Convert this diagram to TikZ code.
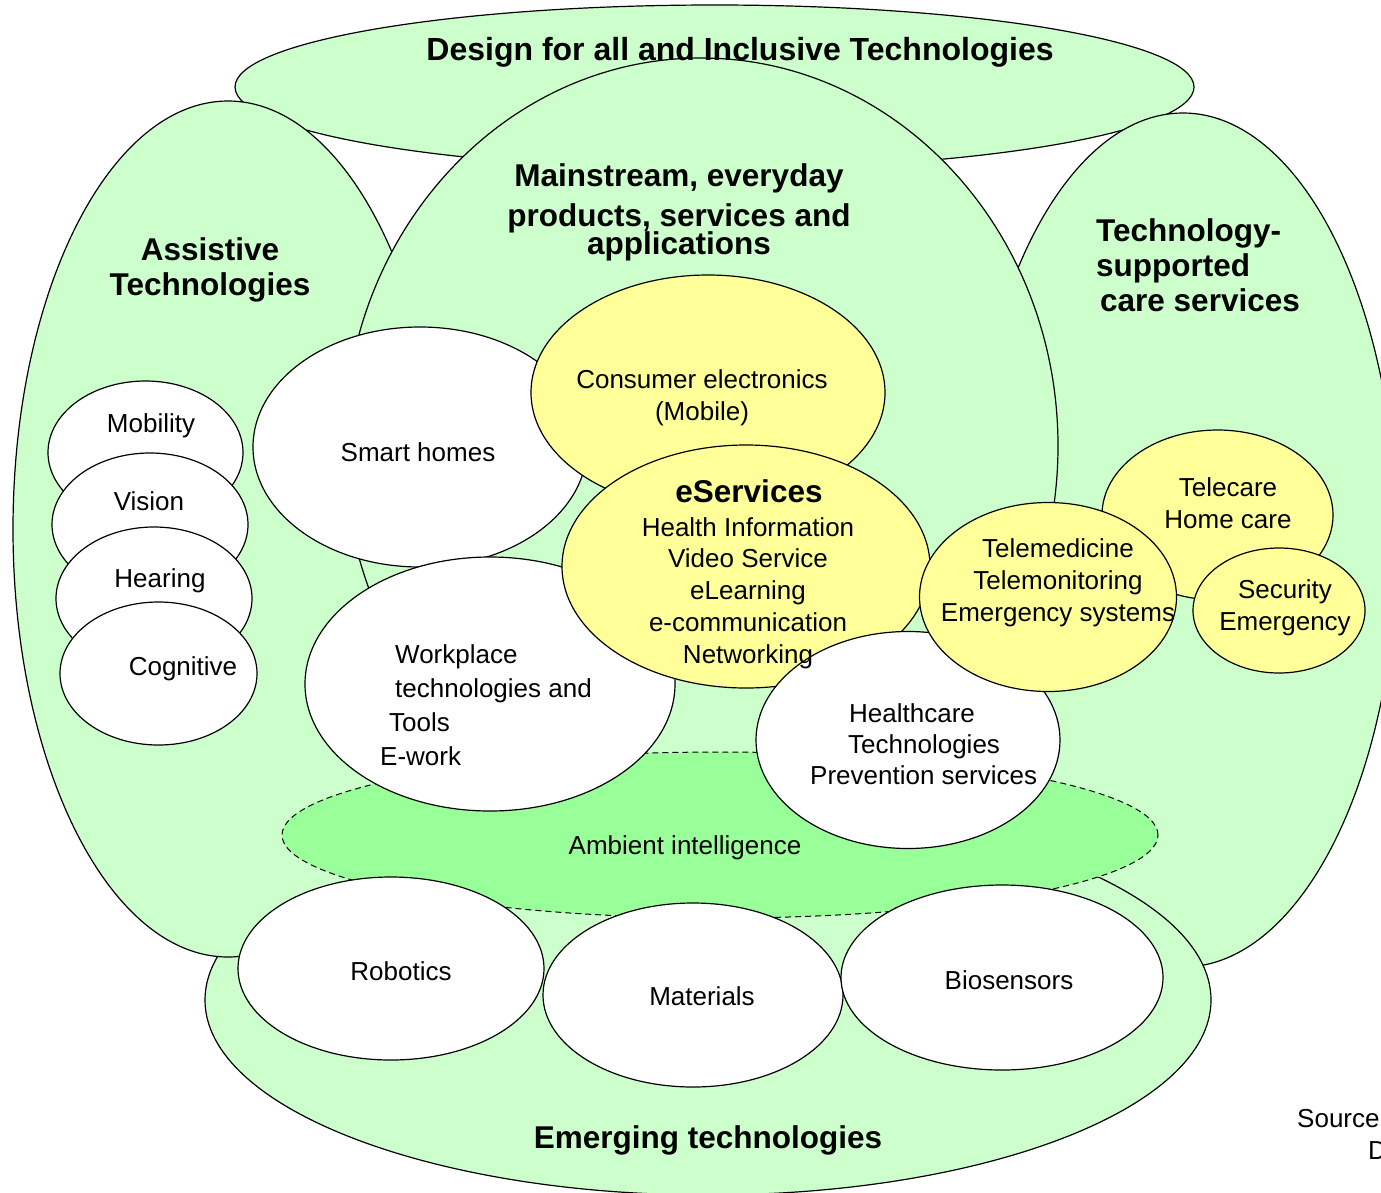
\documentclass[tikz,border=0pt]{standalone}
\usepackage{fontspec}
\setmainfont{Liberation Sans}
\usetikzlibrary{shapes.geometric}

\definecolor{palegreen}{HTML}{CCFFCC}
\definecolor{paleyellow}{HTML}{FFFF99}
\definecolor{amigreen}{HTML}{99FF99}

\newcommand{\regtxt}{\fontsize{26}{32}\selectfont}
\newcommand{\ttltxt}{\fontsize{31.5}{35}\selectfont\bfseries}

\begin{document}
\begin{tikzpicture}[x=1pt, y=-1pt,
    blob/.style={ellipse, draw=black, line width=1.2pt, inner sep=0pt},
    lbl/.style={inner sep=0pt, anchor=base, align=center, font=\regtxt},
    hdr/.style={inner sep=0pt, anchor=base, align=center, font=\ttltxt}]
    \useasboundingbox (0,0) rectangle (1381,1192);

%    the big areas
    \node[blob, fill=palegreen, minimum width=959pt, minimum height=164pt] (design) at (714.5,87) {};
    \node[blob, fill=palegreen, minimum width=428pt, minimum height=854pt] (caresvc) at (1183,540) {};
    \node[blob, fill=palegreen, minimum width=1006pt, minimum height=390pt] (emerging) at (708,1000) {};
    \node[blob, fill=palegreen, minimum width=430pt, minimum height=856pt] (assistive) at (228,529) {};
    \node[blob, fill=palegreen, minimum width=714pt, minimum height=776pt] (mainstream) at (701,446) {};

%    disabilities
    \node[blob, fill=white, minimum width=195pt, minimum height=143pt] (mobility) at (145.5,452.5) {};
    \node[blob, fill=white, minimum width=196pt, minimum height=143pt] (vision) at (150,524.5) {};
    \node[blob, fill=white, minimum width=196pt, minimum height=143pt] (hearing) at (154,598.5) {};
    \node[blob, fill=white, minimum width=197pt, minimum height=143pt] (cognitive) at (158.5,673.5) {};

    \node[blob, fill=amigreen, line width=1pt, dash pattern=on 6pt off 4pt, minimum width=876pt, minimum height=166pt] (ambient) at (720,835) {};

    \node[blob, fill=white, minimum width=334pt, minimum height=240pt] (smarthomes) at (420,447) {};
    \node[blob, fill=paleyellow, minimum width=354pt, minimum height=235pt] (consumer) at (708,392.5) {};
    \node[blob, fill=white, minimum width=370pt, minimum height=254pt] (workplace) at (490,684) {};
    \node[blob, fill=paleyellow, minimum width=368pt, minimum height=243pt] (eservices) at (746,566.5) {};
    \node[blob, fill=white, minimum width=304pt, minimum height=217pt] (healthcare) at (908,740) {};
    \node[blob, fill=paleyellow, minimum width=231pt, minimum height=170pt] (telecare) at (1217.5,515) {};
    \node[blob, fill=paleyellow, minimum width=172pt, minimum height=125pt] (security) at (1279,610.5) {};
    \node[blob, fill=paleyellow, minimum width=257pt, minimum height=189pt] (telemed) at (1048,597) {};

    \node[blob, fill=white, minimum width=306pt, minimum height=183pt] (robotics) at (391,968.5) {};
    \node[blob, fill=white, minimum width=300pt, minimum height=184pt] (materials) at (693,995) {};
    \node[blob, fill=white, minimum width=322pt, minimum height=185pt] (biosensors) at (1002,977.5) {};

%    titles (multi-line ones sit on their last baseline)
    \node[hdr, font=\fontsize{32}{35}\selectfont\bfseries] (designlbl) at (740,60) {Design for all and Inclusive Technologies};
    \node[hdr, font=\fontsize{31.5}{40}\selectfont\bfseries] (mainlbl) at (679,254) {Mainstream, everyday\\ products, services and\\[-12pt] applications};
    \node[hdr] (assistlbl) at (210,295) {Assistive\\ Technologies};
    \node[hdr, anchor=base west, align=left] (carelbl) at (1096,311) {Technology-\\ supported\\ \hspace*{4pt}care services};
    \node[hdr] (emerginglbl) at (708,1148) {Emerging technologies};
    \node[hdr] (eservlbl) at (749,502) {eServices};

%    labels
    \node[lbl] (mobilitylbl) at (151,432) {Mobility};
    \node[lbl] (visionlbl) at (149,510) {Vision};
    \node[lbl] (hearinglbl) at (160,587) {Hearing};
    \node[lbl] (cognitivelbl) at (183,675) {Cognitive};
    \node[lbl] (smartlbl) at (418,461) {Smart homes};
    \node[lbl] (consumerlbl) at (702,420) {Consumer electronics\\ (Mobile)};
    \node[lbl, font=\fontsize{26}{31.75}\selectfont] (eservlist) at (748,663) {Health Information\\ Video Service\\ eLearning\\ e-communication\\ Networking};
    \node[lbl, anchor=base west, align=left, font=\fontsize{26}{33.7}\selectfont] (worklbl) at (380,765) {\hspace*{15pt}Workplace\\ \hspace*{15pt}technologies and\\ \hspace*{9pt}Tools\\ E-work};
    \node[lbl, anchor=base west, align=left, font=\fontsize{26}{31}\selectfont] (healthlbl) at (810,784) {\hspace*{39pt}Healthcare\\ \hspace*{38pt}Technologies\\ Prevention services};
    \node[lbl] (ambientlbl) at (685,854) {Ambient intelligence};
    \node[lbl] (telemedlbl) at (1058,621) {Telemedicine\\ Telemonitoring\\ Emergency systems};
    \node[lbl] (telecarelbl) at (1228,528) {Telecare\\ Home care};
    \node[lbl] (securitylbl) at (1285,630) {Security\\ Emergency};
    \node[lbl] (roboticslbl) at (401,980) {Robotics};
    \node[lbl] (materialslbl) at (702,1005) {Materials};
    \node[lbl] (biosensorslbl) at (1009,989) {Biosensors};

    \node[lbl, anchor=base west] (sourcelbl) at (1297,1127) {Source};
    \node[lbl, anchor=base west] (sourcelbltwo) at (1368,1159) {D};

\end{tikzpicture}
\end{document}
